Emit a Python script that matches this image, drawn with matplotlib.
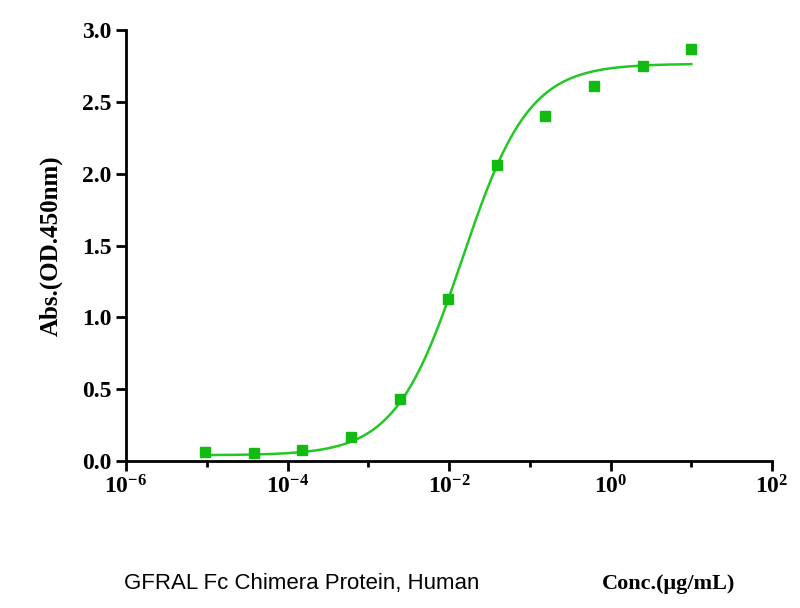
import numpy as np
import matplotlib
matplotlib.use("Agg")
import matplotlib.pyplot as plt
from matplotlib.ticker import FixedLocator, NullFormatter

plt.rcParams["mathtext.fontset"] = "custom"
plt.rcParams["mathtext.rm"] = "Liberation Serif:bold"
plt.rcParams["mathtext.bf"] = "Liberation Serif:bold"

conc = [9.5e-6, 3.8e-5, 1.53e-4, 6.1e-4, 2.44e-3, 9.8e-3, 0.039, 0.156, 0.625, 2.5, 10]
absv = [0.063, 0.056, 0.077, 0.167, 0.43, 1.13, 2.06, 2.40, 2.61, 2.75, 2.87]
# 4PL fit parameters (estimated)
bottom, top, ec50, hill = 0.04, 2.765, 0.0145, 1.05

fig = plt.figure(figsize=(8, 6.08), dpi=100)
ax = fig.add_axes([126/800, 1-461/608, (772-126)/800, (461-30)/608])
xs = np.logspace(np.log10(9.5e-6), 1, 400)
ys = bottom + (top - bottom) / (1 + (ec50 / xs) ** hill)
ax.plot(xs, ys, color="#22c822", lw=1.8)
ax.plot(conc, absv, "s", color="#11bb11", ms=7)
ax.set_xscale("log")
ax.set_xlim(1e-6, 1e2)
ax.set_ylim(0, 3.0)
ax.xaxis.set_major_locator(FixedLocator([1e-6, 1e-4, 1e-2, 1, 1e2]))
ax.xaxis.set_minor_locator(FixedLocator([1e-5, 1e-3, 1e-1, 1e1]))
ax.xaxis.set_minor_formatter(NullFormatter())
ax.set_xticklabels(["$\\mathrm{10^{-6}}$", "$\\mathrm{10^{-4}}$", "$\\mathrm{10^{-2}}$", "$\\mathrm{10^{0}}$", "$\\mathrm{10^{2}}$"])
ax.set_yticks(np.arange(0, 3.01, 0.5))
ax.set_yticklabels([f"{v:.1f}" for v in np.arange(0, 3.01, 0.5)])
for s in ["top", "right"]:
    ax.spines[s].set_visible(False)
for s in ["left", "bottom"]:
    ax.spines[s].set_linewidth(2)
ax.tick_params(axis="both", which="major", width=2, length=7, labelsize=17)
ax.tick_params(axis="x", which="minor", width=2, length=4)
for lab in ax.get_yticklabels() + ax.get_xticklabels():
    lab.set_fontfamily("Liberation Serif")
    lab.set_fontweight("bold")
ax.set_ylabel("Abs.(OD.450nm)", fontfamily="Liberation Serif", fontweight="bold", fontsize=18, labelpad=14)
fig.text(0.155, 0.032, "GFRAL Fc Chimera Protein, Human", fontfamily="Liberation Sans", fontsize=16)
fig.text(0.752, 0.032, "Conc.(μg/mL)", fontfamily="Liberation Serif", fontweight="bold", fontsize=16)
fig.savefig("out.png", dpi=100)
